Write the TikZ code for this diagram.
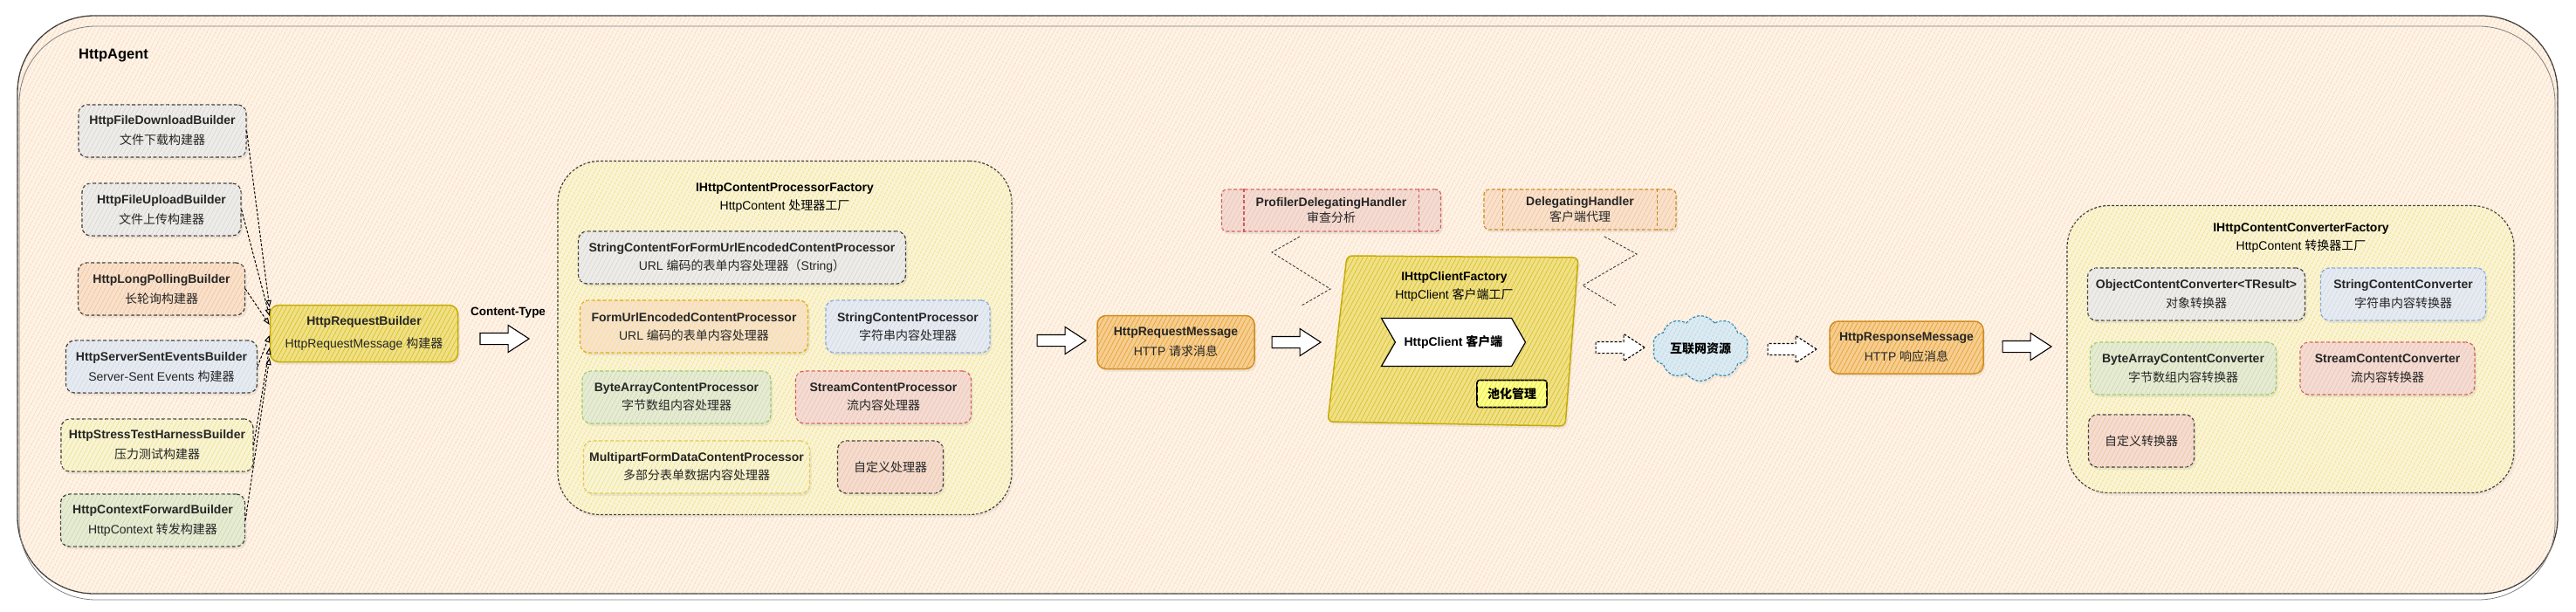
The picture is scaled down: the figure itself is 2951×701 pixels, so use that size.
\documentclass[tikz,border=0pt]{standalone}
\usepackage{fontspec}
\setmainfont{Liberation Sans}
\newfontfamily\cjk{Noto Sans CJK SC}
\usepackage{tikz}
\usetikzlibrary{arrows.meta,calc,positioning,shapes.arrows,shapes.symbols,patterns.meta,shadows}
\usepackage{xcolor}
\definecolor{Ink}{RGB}{60,60,60}
\definecolor{BgLine}{RGB}{247,196,146}
\definecolor{BgFill}{RGB}{254,243,231}
\definecolor{GreyFill}{RGB}{238,236,233}
\definecolor{GreyLine}{RGB}{220,217,212}
\definecolor{PeachFill}{RGB}{249,225,204}
\definecolor{PeachLine}{RGB}{243,200,160}
\definecolor{BlueFill}{RGB}{231,235,240}
\definecolor{BlueLine}{RGB}{208,220,236}
\definecolor{LemonFill}{RGB}{249,244,212}
\definecolor{LemonLine}{RGB}{240,229,150}
\definecolor{LeafFill}{RGB}{231,235,212}
\definecolor{LeafLine}{RGB}{206,221,178}
\definecolor{RoseFill}{RGB}{244,220,210}
\definecolor{RoseLine}{RGB}{238,198,188}
\definecolor{GoldFill}{RGB}{240,225,135}
\definecolor{GoldLine}{RGB}{220,195,50}
\definecolor{GoldEdge}{RGB}{196,168,0}
\definecolor{AmberFill}{RGB}{246,206,145}
\definecolor{AmberLine}{RGB}{233,166,60}
\definecolor{AmberEdge}{RGB}{208,138,28}
\definecolor{CreamFill}{RGB}{250,243,212}
\definecolor{CreamLine}{RGB}{240,227,140}
\definecolor{SkyFill}{RGB}{220,234,241}
\definecolor{SkyLine}{RGB}{188,218,233}
\definecolor{SkyEdge}{RGB}{44,137,181}
\definecolor{EdgeBlue}{RGB}{126,166,224}
\definecolor{EdgeGreen}{RGB}{151,200,107}
\definecolor{EdgeRed}{RGB}{208,90,88}
\definecolor{EdgeAmber}{RGB}{226,168,0}
\definecolor{EdgeMustard}{RGB}{230,195,80}
\definecolor{EdgeOrange}{RGB}{204,133,24}
\definecolor{PoolFill}{RGB}{255,255,140}
\definecolor{PoolLine}{RGB}{232,232,70}
\newcommand{\zh}[1]{{\cjk #1}}
\tikzset{
  hatch/.style 2 args={fill=#1,postaction={pattern={Lines[angle=62,distance=4.5pt,line width=.8pt]},pattern color=#2}},
  card/.style={rounded corners=10pt,draw=Ink,line width=1.2pt,dash pattern=on 4pt off 2.5pt,align=center,inner sep=4pt,text=black!85,drop shadow={opacity=.12,shadow xshift=2pt,shadow yshift=-3pt}},
  msg/.style={card,solid,draw=AmberEdge,line width=1.5pt,hatch={AmberFill}{AmberLine}},
  pane/.style={rounded corners=48pt,draw=Ink,line width=1.2pt,dash pattern=on 3pt off 2pt,hatch={CreamFill}{CreamLine},drop shadow={opacity=.1,shadow xshift=2pt,shadow yshift=-3pt}},
  fatarrow/.style={single arrow,draw=black,fill=white,line width=1.1pt,minimum height=56pt,inner xsep=0pt,inner ysep=6pt,single arrow head extend=9pt,single arrow tip angle=66},
  link/.style={-{Triangle[open,length=8pt,width=6pt]},dash pattern=on 3pt off 2pt,line width=1pt},
  zig/.style={Ink,dash pattern=on 3pt off 2pt,line width=.9pt},
}

\begin{document}
\begin{tikzpicture}[x=1pt,y=-1pt,font=\fontsize{14}{17}\selectfont]
\useasboundingbox (0,0) rectangle (2951,701);
% HttpAgent
\draw[rounded corners=88pt,line width=1.3pt,draw=Ink,fill=BgFill,postaction={pattern={Lines[angle=62,distance=4pt,line width=.9pt]},pattern color=BgLine}] (20,18) rectangle (2930,680);
\draw[rounded corners=88pt,line width=.8pt,draw=gray] (22,30) rectangle (2927,687);
\node[font=\fontsize{16.5}{20}\selectfont\bfseries] (agent) at (130,64) {HttpAgent};
%
% builders
\node[card,hatch={GreyFill}{GreyLine},minimum width=192pt,minimum height=60pt] (dl) at (186,150) {\textbf{HttpFileDownloadBuilder}\\[6pt]\zh{文件下载构建器}};
\node[card,hatch={GreyFill}{GreyLine},minimum width=182pt,minimum height=60pt] (ul) at (185,240) {\textbf{HttpFileUploadBuilder}\\[6pt]\zh{文件上传构建器}};
\node[card,hatch={PeachFill}{PeachLine},minimum width=191pt,minimum height=60pt] (lp) at (185,331) {\textbf{HttpLongPollingBuilder}\\[6pt]\zh{长轮询构建器}};
\node[card,hatch={BlueFill}{BlueLine},minimum width=219pt,minimum height=60pt] (sse) at (185,420) {\textbf{HttpServerSentEventsBuilder}\\[6pt]Server-Sent Events \zh{构建器}};
\node[card,hatch={LemonFill}{LemonLine},minimum width=220pt,minimum height=60pt] (st) at (180,510) {\textbf{HttpStressTestHarnessBuilder}\\[6pt]\zh{压力测试构建器}};
\node[card,hatch={LeafFill}{LeafLine},minimum width=211pt,minimum height=60pt] (ctx) at (175,596) {\textbf{HttpContextForwardBuilder}\\[6pt]HttpContext \zh{转发构建器}};
\node[card,solid,draw=GoldEdge,line width=1.5pt,hatch={GoldFill}{GoldLine},minimum width=215pt,minimum height=65pt] (hrb) at (417,382) {\textbf{HttpRequestBuilder}\\[9pt]HttpRequestMessage \zh{构建器}};
\foreach \b/\s in {dl/30,ul/20,lp/10,sse/-2,st/-16,ctx/-28}
  \draw[link] (\b.east) -- ([yshift=\s pt]hrb.west);
%
\node[fatarrow] (a1) at (573,388) {};
\node[font=\fontsize{13.5}{16}\selectfont\bfseries] (ctype) at (582,358) {Content-Type};
%
% processors
\node[pane,minimum width=520pt,minimum height=405pt] (pf) at (899,387) {};
\node[align=center] (pft) at (899,227) {\textbf{IHttpContentProcessorFactory}\\[4pt]HttpContent \zh{处理器工厂}};
\node[card,hatch={GreyFill}{GreyLine},minimum width=375pt,minimum height=60pt] (scf) at (850,295) {\textbf{StringContentForFormUrlEncodedContentProcessor}\\[4pt]URL \zh{编码的表单内容处理器（}String\zh{）}};
\node[card,draw=EdgeAmber,hatch={PeachFill}{LemonLine},minimum width=261pt,minimum height=60pt] (fue) at (795,374) {\textbf{FormUrlEncodedContentProcessor}\\[4pt]URL \zh{编码的表单内容处理器}};
\node[card,draw=EdgeBlue,hatch={BlueFill}{BlueLine},minimum width=188pt,minimum height=60pt] (scp) at (1040,374) {\textbf{StringContentProcessor}\\[4pt]\zh{字符串内容处理器}};
\node[card,draw=EdgeGreen,hatch={LeafFill}{LeafLine},minimum width=216pt,minimum height=60pt] (bac) at (775,455) {\textbf{ByteArrayContentProcessor}\\[4pt]\zh{字节数组内容处理器}};
\node[card,draw=EdgeRed,hatch={RoseFill}{RoseLine},minimum width=201pt,minimum height=60pt] (stp) at (1012,455) {\textbf{StreamContentProcessor}\\[4pt]\zh{流内容处理器}};
\node[card,draw=EdgeMustard,hatch={LemonFill}{LemonLine},minimum width=259pt,minimum height=60pt] (mfd) at (798,535) {\textbf{MultipartFormDataContentProcessor}\\[4pt]\zh{多部分表单数据内容处理器}};
\node[card,hatch={RoseFill}{PeachLine},minimum width=121pt,minimum height=60pt] (cpr) at (1020,535) {\zh{自定义处理器}};
%
\node[fatarrow] (a2) at (1211,390) {};
\node[msg,minimum width=180pt,minimum height=61pt] (hrm) at (1347,392) {\textbf{HttpRequestMessage}\\[6pt]HTTP \zh{请求消息}};
\node[fatarrow] (a3) at (1480,392) {};
%
% handlers
\node[card,draw=EdgeRed,hatch={RoseFill}{RoseLine},rounded corners=6pt,minimum width=251pt,minimum height=48pt] (prof) at (1525,241) {\textbf{ProfilerDelegatingHandler}\\[1pt]\zh{审查分析}};
\draw[EdgeRed,line width=1.2pt,dash pattern=on 4pt off 2.5pt] ([xshift=26pt]prof.north west) -- ([xshift=26pt]prof.south west) ([xshift=-26pt]prof.north east) -- ([xshift=-26pt]prof.south east);
\node[card,draw=EdgeOrange,hatch={PeachFill}{PeachLine},rounded corners=6pt,minimum width=220pt,minimum height=46pt] (dlg) at (1810,240) {\textbf{DelegatingHandler}\\[1pt]\zh{客户端代理}};
\draw[EdgeOrange,line width=1.2pt,dash pattern=on 4pt off 2.5pt] ([xshift=22pt]dlg.north west) -- ([xshift=22pt]dlg.south west) ([xshift=-22pt]dlg.north east) -- ([xshift=-22pt]dlg.south east);
\draw[zig] (1489,271) -- (1457,289) -- (1524,331) -- (1491,350);
\draw[zig] (1838,271) -- (1875,291) -- (1813,327) -- (1851,350);
%
% client factory
\draw[draw=GoldEdge,line width=1.5pt,hatch={GoldFill}{GoldLine},rounded corners=6pt,drop shadow={opacity=.12,shadow xshift=2pt,shadow yshift=-3pt}] (1543,293) -- (1808,295) -- (1793,488) -- (1521,483) -- cycle;
\node[align=center] (cft) at (1666,328) {\textbf{IHttpClientFactory}\\[4pt]HttpClient \zh{客户端工厂}};
\node[signal,signal to=east,signal from=west,signal pointer angle=120,draw=black,fill=white,line width=1.2pt,minimum width=165pt,minimum height=55pt,font=\fontsize{14}{17}\selectfont\bfseries] (hc) at (1665,392) {HttpClient \zh{客户端}};
\node[draw=black,line width=1.6pt,rounded corners=3pt,hatch={PoolFill}{PoolLine},minimum width=80pt,minimum height=31pt,font=\fontsize{14}{17}\selectfont\bfseries] (pool) at (1732,451) {\zh{池化管理}};
%
\node[fatarrow,dash pattern=on 3pt off 2pt] (a4) at (1851,398) {};
\node[cloud,cloud puffs=10,cloud puff arc=110,aspect=1.6,draw=SkyEdge,line width=1.2pt,dash pattern=on 3pt off 2pt,hatch={SkyFill}{SkyLine},minimum width=110pt,minimum height=72pt,inner sep=0pt,font=\fontsize{14}{17}\selectfont\bfseries,drop shadow={opacity=.1,shadow xshift=2pt,shadow yshift=-3pt}] (net) at (1948,399) {\zh{互联网资源}};
\node[fatarrow,dash pattern=on 3pt off 2pt] (a5) at (2048,400) {};
\node[msg,minimum width=176pt,minimum height=60pt] (hrs) at (2184,398) {\textbf{HttpResponseMessage}\\[6pt]HTTP \zh{响应消息}};
\node[fatarrow] (a6) at (2317,397) {};
%
% converters
\node[pane,minimum width=512pt,minimum height=329pt] (cvf) at (2624,400) {};
\node[align=center] (cvt) at (2636,273) {\textbf{IHttpContentConverterFactory}\\[4pt]HttpContent \zh{转换器工厂}};
\node[card,hatch={GreyFill}{GreyLine},minimum width=249pt,minimum height=60pt] (occ) at (2516,337) {\textbf{ObjectContentConverter<TResult>}\\[5pt]\zh{对象转换器}};
\node[card,draw=EdgeBlue,hatch={BlueFill}{BlueLine},minimum width=189pt,minimum height=60pt] (scc) at (2753,337) {\textbf{StringContentConverter}\\[5pt]\zh{字符串内容转换器}};
\node[card,draw=EdgeGreen,hatch={LeafFill}{LeafLine},minimum width=213pt,minimum height=60pt] (bcc) at (2501,422) {\textbf{ByteArrayContentConverter}\\[5pt]\zh{字节数组内容转换器}};
\node[card,draw=EdgeRed,hatch={RoseFill}{RoseLine},minimum width=200pt,minimum height=60pt] (stc) at (2735,422) {\textbf{StreamContentConverter}\\[5pt]\zh{流内容转换器}};
\node[card,hatch={RoseFill}{PeachLine},minimum width=121pt,minimum height=60pt] (ccv) at (2453,505) {\zh{自定义转换器}};
%
\end{tikzpicture}
\end{document}
